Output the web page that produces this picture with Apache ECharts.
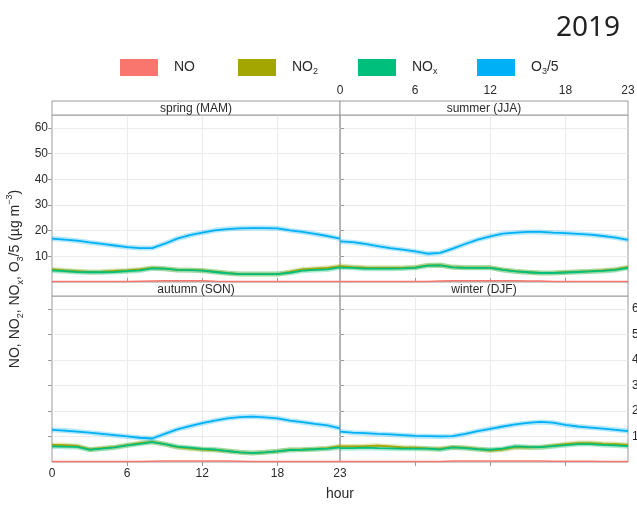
<!DOCTYPE html>
<html><head><meta charset="utf-8">
<script src="https://cdn.jsdelivr.net/npm/echarts@6/dist/echarts.min.js"></script>
<style>html,body{margin:0;padding:0;background:#fff}#c{width:637px;height:507px}</style>
</head><body><div id="c"></div>
<script>
// ---------- data ----------
const hours = [0,1,2,3,4,5,6,7,8,9,10,11,12,13,14,15,16,17,18,19,20,21,22,23];
const seasons = ['spring (MAM)', 'summer (JJA)', 'autumn (SON)', 'winter (DJF)'];
const pollutants = ['NO', 'NO2', 'NOx', 'O3/5'];
const xTickLabels = [0, 6, 12, 18, 23];
const xTickMarks = [6, 12, 18];
const yTickLabels = [10, 20, 30, 40, 50, 60];
const yearLabel = '2019';

const spring_NO  = [0.2,0.2,0.2,0.2,0.2,0.2,0.2,0.3,0.4,0.5,0.5,0.5,0.5,0.3,0.2,0.2,0.2,0.2,0.2,0.2,0.2,0.2,0.2,0.2];
const spring_NO2 = [4.9,4.5,4.2,3.9,4.0,4.3,4.5,4.9,5.5,5.2,4.7,4.7,4.5,4.0,3.5,3.1,3.1,3.1,3.1,3.9,4.9,5.2,5.5,6.1];
const spring_NOx = [4.5,4.2,3.9,3.8,3.8,3.9,4.2,4.5,5.3,5.2,4.7,4.6,4.4,3.9,3.4,3.1,3.1,3.1,3.1,3.6,4.4,4.7,4.9,5.7];
const spring_O3  = [16.9,16.5,16.1,15.4,14.8,14.2,13.6,13.2,13.2,14.9,16.9,18.2,19.2,20.1,20.6,20.9,21.0,21.0,20.9,20.1,19.5,18.7,17.9,16.9];

const summer_NO  = [0.2,0.2,0.2,0.2,0.2,0.2,0.2,0.2,0.4,0.5,0.5,0.5,0.5,0.5,0.5,0.4,0.4,0.2,0.2,0.2,0.2,0.2,0.2,0.2];
const summer_NO2 = [6.2,5.8,5.6,5.5,5.5,5.5,5.7,6.5,6.6,5.8,5.6,5.6,5.6,4.8,4.2,3.8,3.5,3.5,3.8,4.0,4.2,4.5,4.9,5.8];
const summer_NOx = [5.6,5.5,5.2,5.2,5.2,5.3,5.5,6.4,6.5,5.7,5.5,5.5,5.5,4.7,4.1,3.8,3.5,3.5,3.7,3.9,4.1,4.3,4.7,5.5];
const summer_O3  = [15.8,15.5,14.8,14.0,13.2,12.6,11.9,11.0,11.3,13.0,14.8,16.5,17.8,18.8,19.2,19.5,19.5,19.2,19.0,18.7,18.4,17.9,17.3,16.4];

const autumn_NO  = [0.2,0.2,0.2,0.2,0.2,0.2,0.2,0.2,0.3,0.4,0.4,0.4,0.4,0.4,0.4,0.3,0.2,0.2,0.2,0.2,0.2,0.2,0.2,0.2];
const autumn_NO2 = [6.7,6.6,6.3,4.9,5.4,5.8,6.6,7.4,7.9,7.0,5.8,5.3,4.9,4.7,4.3,3.8,3.5,3.8,4.2,4.8,4.9,5.1,5.4,6.2];
const autumn_NOx = [6.1,6.0,5.9,4.8,5.2,5.7,6.5,7.1,7.8,7.0,6.0,5.6,5.1,4.9,4.3,3.8,3.5,3.8,4.2,4.7,4.8,5.0,5.2,5.7];
const autumn_O3  = [12.6,12.3,11.9,11.5,11.0,10.5,10.0,9.5,9.2,11.0,12.8,14.0,15.2,16.2,17.1,17.6,17.8,17.5,17.1,16.2,15.6,14.9,14.3,13.2];

const winter_NO  = [0.2,0.2,0.2,0.2,0.2,0.2,0.2,0.2,0.2,0.35,0.35,0.35,0.35,0.35,0.35,0.35,0.35,0.3,0.3,0.3,0.3,0.2,0.2,0.2];
const winter_NO2 = [6.1,6.1,6.2,6.4,6.1,5.7,5.6,5.3,5.2,5.8,5.6,5.1,4.5,4.9,5.8,5.7,5.8,6.4,7.0,7.4,7.4,7.1,7.0,6.7];
const winter_NOx = [5.4,5.4,5.6,5.4,5.3,5.2,5.2,5.2,4.9,5.7,5.4,5.0,4.8,5.2,6.1,5.9,5.8,6.2,6.6,7.0,7.0,6.7,6.5,6.2];
const winter_O3  = [11.9,11.5,11.3,11.0,10.8,10.5,10.2,10.1,10.0,10.1,11.0,12.1,13.0,13.9,14.7,15.3,15.7,15.4,14.5,13.9,13.5,13.1,12.6,12.1];

// ---------- styling ----------
const colors = { 'NO': '#F8766D', 'NO2': '#A3A500', 'NOx': '#00BF7D', 'O3/5': '#00B0F6' };
const seasonData = [
  [spring_NO, spring_NO2, spring_NOx, spring_O3],
  [summer_NO, summer_NO2, summer_NOx, summer_O3],
  [autumn_NO, autumn_NO2, autumn_NOx, autumn_O3],
  [winter_NO, winter_NO2, winter_NOx, winter_O3]
];
const FONT = '"Liberation Sans", Arial, sans-serif';
const BORDER = '#9a9a9a';
const GRIDC = '#ebebeb';
const TXT = '#2a2a2a';

const L = 52, M = 340, W = 288;
const TOP1 = 115, H1 = 167, TOP2 = 296, H2 = 166, STRIP = 14;

const grids = [
  { left: L, top: TOP1, width: W, height: H1 },
  { left: M, top: TOP1, width: W, height: H1 },
  { left: L, top: TOP2, width: W, height: H2 },
  { left: M, top: TOP2, width: W, height: H2 }
].map(g => Object.assign(g, { show: true, borderColor: BORDER, borderWidth: 1, backgroundColor: 'transparent', containLabel: false, outerBoundsMode: 'none' }));

function xAxisFor(i) {
  const top = i < 2;
  const showLabels = (i === 1 || i === 2);
  return {
    type: 'value', gridIndex: i, min: 0, max: 23, interval: 6,
    position: top ? 'top' : 'bottom',
    offset: top ? STRIP : 0,
    axisLine: { show: top, lineStyle: { color: BORDER, width: 1 } },
    axisTick: { show: true, length: 4, customValues: xTickMarks, lineStyle: { color: BORDER } },
    axisLabel: { show: showLabels, customValues: xTickLabels, margin: top ? 4 : 6, fontSize: 12, color: TXT, fontFamily: FONT },
    splitLine: { show: true, lineStyle: { color: GRIDC, width: 1 } }
  };
}
function yAxisFor(i) {
  const right = (i === 1 || i === 3);
  const showLabels = (i === 0 || i === 3);
  return {
    type: 'value', gridIndex: i, min: 0, max: 65, interval: 10,
    position: right ? 'right' : 'left',
    axisLine: { show: false },
    axisTick: { show: true, length: 4, customValues: yTickLabels, lineStyle: { color: BORDER } },
    axisLabel: { show: showLabels, customValues: yTickLabels, margin: 4, fontSize: 12, color: TXT, fontFamily: FONT },
    splitLine: { show: true, lineStyle: { color: GRIDC, width: 1 } }
  };
}

const series = [];
seasonData.forEach((arrs, g) => {
  arrs.forEach((vals, k) => {
    const name = pollutants[k];
    const data = hours.map((h, j) => [h, vals[j]]);
    if (name !== 'NO') {
      series.push({
        type: 'line', name: name + ' band', xAxisIndex: g, yAxisIndex: g, data,
        showSymbol: false, silent: true, z: 2 + k * 0.1,
        itemStyle: { color: colors[name] },
        lineStyle: { color: colors[name], width: 5, opacity: 0.3 }
      });
    }
    series.push({
      type: 'line', name, xAxisIndex: g, yAxisIndex: g, data,
      showSymbol: false, silent: true, z: 3 + k * 0.1,
      itemStyle: { color: colors[name] },
      lineStyle: { color: colors[name], width: name === 'NO' ? 1.5 : 1.8 }
    });
  });
});

const legendRich = {
  b: { fontSize: 14, lineHeight: 18, color: TXT, fontFamily: FONT },
  s: { fontSize: 9, lineHeight: 10, verticalAlign: 'bottom', color: TXT, fontFamily: FONT }
};
const legendText = {
  'NO': '{b|NO}', 'NO2': '{b|NO}{s|2}', 'NOx': '{b|NO}{s|x}', 'O3/5': '{b|O}{s|3}{b|/5}'
};
const legendLefts = [120, 238, 358, 477];
const legends = pollutants.map((p, i) => ({
  data: [p], left: legendLefts[i], top: 59, padding: 0,
  icon: 'rect', itemWidth: 38, itemHeight: 17,
  selectedMode: false,
  formatter: n => legendText[n],
  textStyle: { padding: [0, 0, 0, 11], rich: legendRich, color: TXT }
}));

const graphics = [];
[[L, 101], [M, 101], [L, 282], [M, 282]].forEach((p, i) => {
  graphics.push({
    type: 'rect', shape: { x: p[0], y: p[1], width: W, height: STRIP }, z: 1,
    style: { fill: '#fff', stroke: BORDER, lineWidth: 1 }
  });
  graphics.push({
    type: 'text', x: p[0] + W / 2, y: p[1] + STRIP / 2 + 0.5, z: 11,
    style: { text: seasons[i], fontSize: 12, fontFamily: FONT, fill: TXT, align: 'center', verticalAlign: 'middle' }
  });
});
graphics.push({
  type: 'text', x: 15, y: 279, rotation: Math.PI / 2, z: 11,
  style: {
    text: '{b|NO, NO}{s|2}{b|, NO}{s|x}{b|, O}{s|3}{b|/5 (µg m}{p|−3}{b|)}',
    align: 'center', verticalAlign: 'middle',
    rich: {
      b: { fontSize: 14, lineHeight: 20, fill: TXT, fontFamily: FONT },
      s: { fontSize: 9, lineHeight: 10, verticalAlign: 'bottom', fill: TXT, fontFamily: FONT },
      p: { fontSize: 9, lineHeight: 10, verticalAlign: 'top', fill: TXT, fontFamily: FONT }
    }
  }
});
graphics.push({
  type: 'text', x: M, y: 494, z: 11,
  style: { text: 'hour', fontSize: 14, fontFamily: FONT, fill: TXT, align: 'center', verticalAlign: 'middle' }
});

const chart = echarts.init(document.getElementById('c'), null, { renderer: 'canvas' });
chart.setOption({
  animation: false,
  backgroundColor: '#fff',
  textStyle: { fontFamily: FONT },
  title: {
    text: yearLabel, right: 17, top: 14, padding: 0,
    textStyle: { fontSize: 28, fontWeight: 'normal', color: '#222', fontFamily: '"Noto Sans", sans-serif' }
  },
  legend: legends,
  grid: grids,
  xAxis: [0, 1, 2, 3].map(xAxisFor),
  yAxis: [0, 1, 2, 3].map(yAxisFor),
  series,
  graphic: { elements: graphics }
});
</script></body></html>
